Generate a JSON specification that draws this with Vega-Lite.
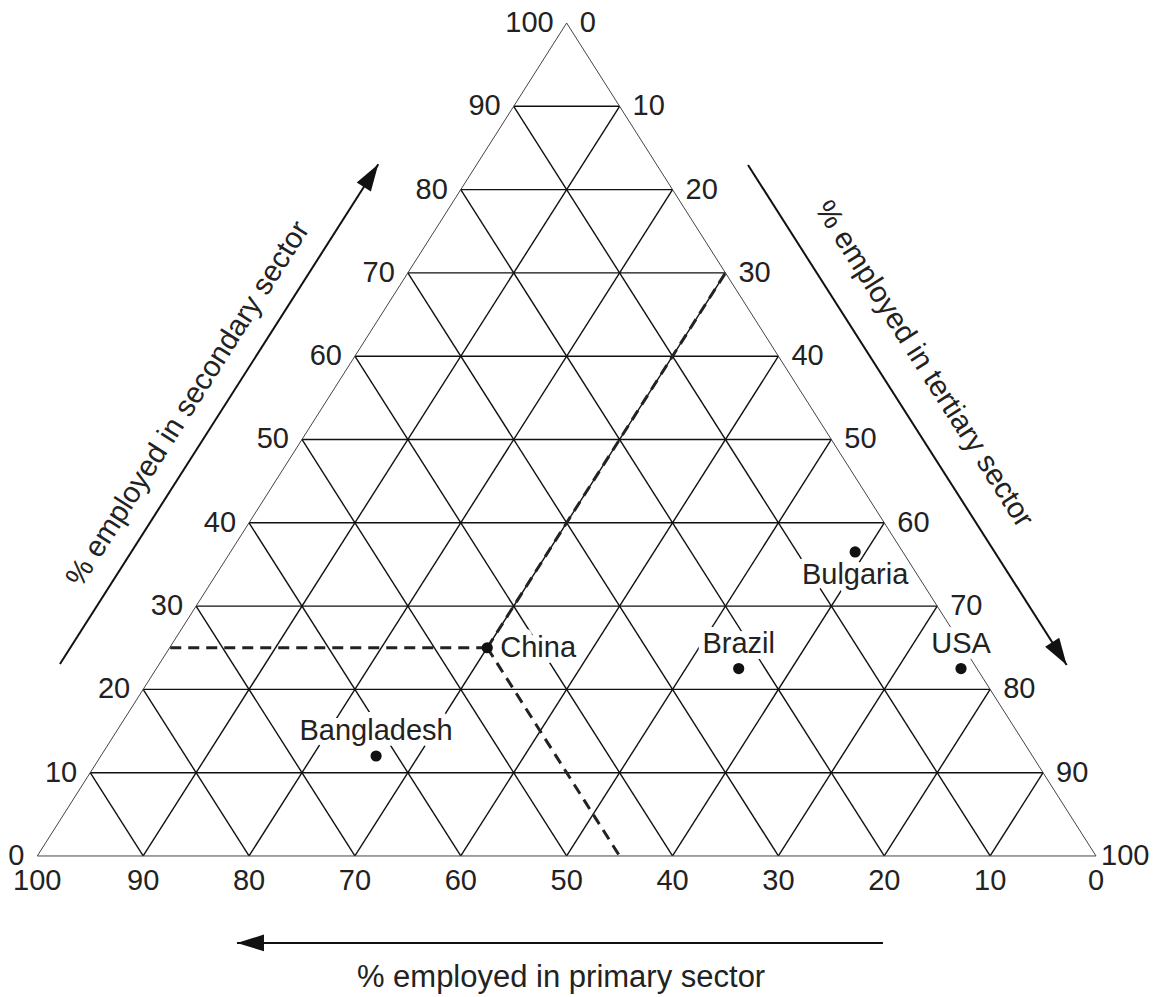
{
  "$schema": "https://vega.github.io/schema/vega-lite/v6.json",
  "width": 1159,
  "height": 997,
  "autosize": "none",
  "padding": 0,
  "background": "white",
  "config": {"view": {"stroke": null}, "text": {"font": "Liberation Sans", "fontSize": 29, "color": "#222"}},
  "datasets": {
    "sides": [
      {"s1": 0, "t1": 0, "s2": 0, "t2": 100},
      {"s1": 0, "t1": 0, "s2": 100, "t2": 0},
      {"s1": 0, "t1": 100, "s2": 100, "t2": 0}
    ],
    "grid": [
      {"s1": 10, "t1": 0, "s2": 10, "t2": 90},
      {"s1": 20, "t1": 0, "s2": 20, "t2": 80},
      {"s1": 30, "t1": 0, "s2": 30, "t2": 70},
      {"s1": 40, "t1": 0, "s2": 40, "t2": 60},
      {"s1": 50, "t1": 0, "s2": 50, "t2": 50},
      {"s1": 60, "t1": 0, "s2": 60, "t2": 40},
      {"s1": 70, "t1": 0, "s2": 70, "t2": 30},
      {"s1": 80, "t1": 0, "s2": 80, "t2": 20},
      {"s1": 90, "t1": 0, "s2": 90, "t2": 10},
      {"s1": 0, "t1": 10, "s2": 90, "t2": 10},
      {"s1": 0, "t1": 20, "s2": 80, "t2": 20},
      {"s1": 0, "t1": 30, "s2": 70, "t2": 30},
      {"s1": 0, "t1": 40, "s2": 60, "t2": 40},
      {"s1": 0, "t1": 50, "s2": 50, "t2": 50},
      {"s1": 0, "t1": 60, "s2": 40, "t2": 60},
      {"s1": 0, "t1": 70, "s2": 30, "t2": 70},
      {"s1": 0, "t1": 80, "s2": 20, "t2": 80},
      {"s1": 0, "t1": 90, "s2": 10, "t2": 90},
      {"s1": 0, "t1": 90, "s2": 90, "t2": 0},
      {"s1": 0, "t1": 80, "s2": 80, "t2": 0},
      {"s1": 0, "t1": 70, "s2": 70, "t2": 0},
      {"s1": 0, "t1": 60, "s2": 60, "t2": 0},
      {"s1": 0, "t1": 50, "s2": 50, "t2": 0},
      {"s1": 0, "t1": 40, "s2": 40, "t2": 0},
      {"s1": 0, "t1": 30, "s2": 30, "t2": 0},
      {"s1": 0, "t1": 20, "s2": 20, "t2": 0},
      {"s1": 0, "t1": 10, "s2": 10, "t2": 0}
    ],
    "guides": [
      {"s1": 25, "t1": 30, "s2": 25, "t2": 0},
      {"s1": 25, "t1": 30, "s2": 0, "t2": 55},
      {"s1": 25, "t1": 30, "s2": 70, "t2": 30}
    ],
    "countries": [
      {"country": "China", "primary": 45, "secondary": 25, "tertiary": 30},
      {"country": "Bangladesh", "primary": 62, "secondary": 12, "tertiary": 26},
      {"country": "Brazil", "primary": 22.5, "secondary": 22.5, "tertiary": 55},
      {"country": "USA", "primary": 1.5, "secondary": 22.5, "tertiary": 76},
      {"country": "Bulgaria", "primary": 4.5, "secondary": 36.5, "tertiary": 59}
    ],
    "leftTicks": [
      {"label": "0", "s": 0, "t": 0}, {"label": "10", "s": 10, "t": 0}, {"label": "20", "s": 20, "t": 0},
      {"label": "30", "s": 30, "t": 0}, {"label": "40", "s": 40, "t": 0}, {"label": "50", "s": 50, "t": 0},
      {"label": "60", "s": 60, "t": 0}, {"label": "70", "s": 70, "t": 0}, {"label": "80", "s": 80, "t": 0},
      {"label": "90", "s": 90, "t": 0}, {"label": "100", "s": 100, "t": 0}
    ],
    "rightTicks": [
      {"label": "0", "s": 100, "t": 0}, {"label": "10", "s": 90, "t": 10}, {"label": "20", "s": 80, "t": 20},
      {"label": "30", "s": 70, "t": 30}, {"label": "40", "s": 60, "t": 40}, {"label": "50", "s": 50, "t": 50},
      {"label": "60", "s": 40, "t": 60}, {"label": "70", "s": 30, "t": 70}, {"label": "80", "s": 20, "t": 80},
      {"label": "90", "s": 10, "t": 90}, {"label": "100", "s": 0, "t": 100}
    ],
    "bottomTicks": [
      {"label": "100", "s": 0, "t": 0}, {"label": "90", "s": 0, "t": 10}, {"label": "80", "s": 0, "t": 20},
      {"label": "70", "s": 0, "t": 30}, {"label": "60", "s": 0, "t": 40}, {"label": "50", "s": 0, "t": 50},
      {"label": "40", "s": 0, "t": 60}, {"label": "30", "s": 0, "t": 70}, {"label": "20", "s": 0, "t": 80},
      {"label": "10", "s": 0, "t": 90}, {"label": "0", "s": 0, "t": 100}
    ],
    "titles": [
      {"title": "% employed in secondary sector", "x": 14.24, "y": 54.26},
      {"title": "% employed in tertiary sector", "x": 83.75, "y": 59.06},
      {"title": "% employed in primary sector", "x": 49.47, "y": -14.6}
    ],
    "arrows": [
      {"arrow": "secondary", "x": 2.14, "y": 23.05, "x2": 32.21, "y2": 83.04},
      {"arrow": "tertiary", "x": 67.13, "y": 82.95, "x2": 97.23, "y2": 22.93},
      {"arrow": "primary", "x": 79.88, "y": -10.44, "x2": 18.86, "y2": -10.44}
    ]
  },
  "encoding": {
    "x": {"field": "x", "type": "quantitative", "scale": {"domain": [-3.523, 105.95], "nice": false, "zero": false}, "axis": null},
    "y": {"field": "y", "type": "quantitative", "scale": {"domain": [-16.93, 102.76], "nice": false, "zero": false}, "axis": null}
  },
  "layer": [
    {
      "data": {"name": "grid"},
      "transform": [
        {"calculate": "datum.t1 + datum.s1 / 2", "as": "x"},
        {"calculate": "datum.s1", "as": "y"},
        {"calculate": "datum.t2 + datum.s2 / 2", "as": "xe"},
        {"calculate": "datum.s2", "as": "ye"}
      ],
      "mark": {"type": "rule", "color": "#111", "strokeWidth": 1.4},
      "encoding": {"x2": {"field": "xe"}, "y2": {"field": "ye"}}
    },
    {
      "data": {"name": "sides"},
      "transform": [
        {"calculate": "datum.t1 + datum.s1 / 2", "as": "x"},
        {"calculate": "datum.s1", "as": "y"},
        {"calculate": "datum.t2 + datum.s2 / 2", "as": "xe"},
        {"calculate": "datum.s2", "as": "ye"}
      ],
      "mark": {"type": "rule", "color": "#444", "strokeWidth": 1},
      "encoding": {"x2": {"field": "xe"}, "y2": {"field": "ye"}}
    },
    {
      "data": {"name": "guides"},
      "transform": [
        {"calculate": "datum.t1 + datum.s1 / 2", "as": "x"},
        {"calculate": "datum.s1", "as": "y"},
        {"calculate": "datum.t2 + datum.s2 / 2", "as": "xe"},
        {"calculate": "datum.s2", "as": "ye"}
      ],
      "mark": {"type": "rule", "color": "#222", "strokeWidth": 3, "strokeDash": [11, 7]},
      "encoding": {"x2": {"field": "xe"}, "y2": {"field": "ye"}}
    },
    {
      "data": {"name": "countries"},
      "transform": [
        {"filter": "datum.country === 'China'"},
        {"calculate": "datum.tertiary + datum.secondary / 2", "as": "x"},
        {"calculate": "datum.secondary", "as": "y"}
      ],
      "mark": {"type": "text", "align": "left", "baseline": "middle", "dx": 13, "stroke": "white", "strokeWidth": 12, "strokeJoin": "round", "color": "white"},
      "encoding": {"text": {"field": "country"}}
    },
    {
      "data": {"name": "countries"},
      "transform": [
        {"filter": "datum.country === 'Bulgaria'"},
        {"calculate": "datum.tertiary + datum.secondary / 2", "as": "x"},
        {"calculate": "datum.secondary", "as": "y"}
      ],
      "mark": {"type": "text", "align": "center", "baseline": "middle", "dy": 23, "stroke": "white", "strokeWidth": 12, "strokeJoin": "round", "color": "white"},
      "encoding": {"text": {"field": "country"}}
    },
    {
      "data": {"name": "countries"},
      "transform": [
        {"filter": "datum.country !== 'China' && datum.country !== 'Bulgaria'"},
        {"calculate": "datum.tertiary + datum.secondary / 2", "as": "x"},
        {"calculate": "datum.secondary", "as": "y"}
      ],
      "mark": {"type": "text", "align": "center", "baseline": "middle", "dy": -25, "stroke": "white", "strokeWidth": 12, "strokeJoin": "round", "color": "white"},
      "encoding": {"text": {"field": "country"}}
    },
    {
      "data": {"name": "countries"},
      "transform": [
        {"calculate": "datum.tertiary + datum.secondary / 2", "as": "x"},
        {"calculate": "datum.secondary", "as": "y"}
      ],
      "mark": {"type": "point", "filled": true, "size": 125, "color": "#111", "opacity": 1}
    },
    {
      "data": {"name": "countries"},
      "transform": [
        {"filter": "datum.country === 'China'"},
        {"calculate": "datum.tertiary + datum.secondary / 2", "as": "x"},
        {"calculate": "datum.secondary", "as": "y"}
      ],
      "mark": {"type": "text", "align": "left", "baseline": "middle", "dx": 13},
      "encoding": {"text": {"field": "country"}}
    },
    {
      "data": {"name": "countries"},
      "transform": [
        {"filter": "datum.country === 'Bulgaria'"},
        {"calculate": "datum.tertiary + datum.secondary / 2", "as": "x"},
        {"calculate": "datum.secondary", "as": "y"}
      ],
      "mark": {"type": "text", "align": "center", "baseline": "middle", "dy": 23},
      "encoding": {"text": {"field": "country"}}
    },
    {
      "data": {"name": "countries"},
      "transform": [
        {"filter": "datum.country !== 'China' && datum.country !== 'Bulgaria'"},
        {"calculate": "datum.tertiary + datum.secondary / 2", "as": "x"},
        {"calculate": "datum.secondary", "as": "y"}
      ],
      "mark": {"type": "text", "align": "center", "baseline": "middle", "dy": -25},
      "encoding": {"text": {"field": "country"}}
    },
    {
      "data": {"name": "leftTicks"},
      "transform": [
        {"calculate": "datum.t + datum.s / 2", "as": "x"},
        {"calculate": "datum.s", "as": "y"}
      ],
      "mark": {"type": "text", "align": "right", "baseline": "middle", "dx": -13},
      "encoding": {"text": {"field": "label"}}
    },
    {
      "data": {"name": "rightTicks"},
      "transform": [
        {"filter": "datum.t < 100"},
        {"calculate": "datum.t + datum.s / 2", "as": "x"},
        {"calculate": "datum.s", "as": "y"}
      ],
      "mark": {"type": "text", "align": "left", "baseline": "middle", "dx": 13},
      "encoding": {"text": {"field": "label"}}
    },
    {
      "data": {"name": "rightTicks"},
      "transform": [
        {"filter": "datum.t === 100"},
        {"calculate": "datum.t + datum.s / 2", "as": "x"},
        {"calculate": "datum.s", "as": "y"}
      ],
      "mark": {"type": "text", "align": "left", "baseline": "middle", "dx": 5},
      "encoding": {"text": {"field": "label"}}
    },
    {
      "data": {"name": "bottomTicks"},
      "transform": [
        {"calculate": "datum.t + datum.s / 2", "as": "x"},
        {"calculate": "datum.s", "as": "y"}
      ],
      "mark": {"type": "text", "align": "center", "baseline": "alphabetic", "dy": 34},
      "encoding": {"text": {"field": "label"}}
    },
    {
      "data": {"name": "titles"},
      "transform": [{"filter": "datum.title === '% employed in secondary sector'"}],
      "mark": {"type": "text", "align": "center", "baseline": "middle", "angle": -57.5, "fontSize": 29.5},
      "encoding": {"text": {"field": "title"}}
    },
    {
      "data": {"name": "titles"},
      "transform": [{"filter": "datum.title === '% employed in tertiary sector'"}],
      "mark": {"type": "text", "align": "center", "baseline": "middle", "angle": 57.5, "fontSize": 29.5},
      "encoding": {"text": {"field": "title"}}
    },
    {
      "data": {"name": "titles"},
      "transform": [{"filter": "datum.title === '% employed in primary sector'"}],
      "mark": {"type": "text", "align": "center", "baseline": "middle", "fontSize": 31},
      "encoding": {"text": {"field": "title"}}
    },
    {
      "data": {"name": "arrows"},
      "mark": {"type": "rule", "color": "#111", "strokeWidth": 2},
      "encoding": {"x2": {"field": "x2"}, "y2": {"field": "y2"}}
    },
    {
      "data": {"name": "arrows"},
      "transform": [
        {"filter": "datum.arrow === 'secondary'"},
        {"calculate": "datum.x2", "as": "x"},
        {"calculate": "datum.y2", "as": "y"}
      ],
      "mark": {"type": "point", "shape": "M0,0L0.62,2L-0.62,2Z", "filled": true, "size": 729, "angle": 32.5, "color": "#111", "opacity": 1}
    },
    {
      "data": {"name": "arrows"},
      "transform": [
        {"filter": "datum.arrow === 'tertiary'"},
        {"calculate": "datum.x2", "as": "x"},
        {"calculate": "datum.y2", "as": "y"}
      ],
      "mark": {"type": "point", "shape": "M0,0L0.62,2L-0.62,2Z", "filled": true, "size": 729, "angle": 147.5, "color": "#111", "opacity": 1}
    },
    {
      "data": {"name": "arrows"},
      "transform": [
        {"filter": "datum.arrow === 'primary'"},
        {"calculate": "datum.x2", "as": "x"},
        {"calculate": "datum.y2", "as": "y"}
      ],
      "mark": {"type": "point", "shape": "M0,0L0.62,2L-0.62,2Z", "filled": true, "size": 729, "angle": 270, "color": "#111", "opacity": 1}
    }
  ]
}
